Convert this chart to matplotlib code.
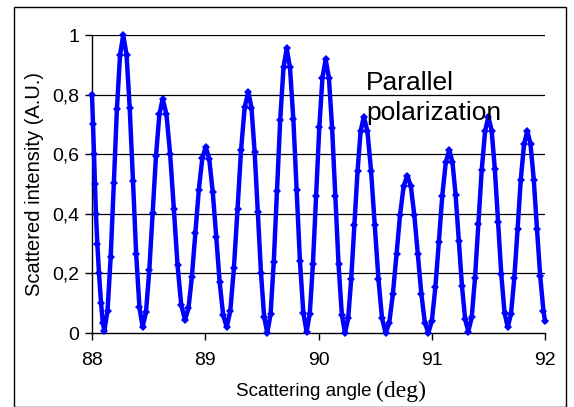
import matplotlib
matplotlib.use("Agg")
import matplotlib.pyplot as plt
from matplotlib.patches import Rectangle

# Scattering angle (deg) and scattered intensity (A.U.)
angle = [
    88.000, 88.009, 88.018, 88.026, 88.035, 88.047, 88.062, 88.080, 88.095,
    88.109, 88.137, 88.165, 88.193, 88.220, 88.248,
    88.276, 88.305, 88.333, 88.362, 88.390, 88.419,
    88.447, 88.477, 88.506, 88.536, 88.565, 88.595,
    88.624, 88.657, 88.690, 88.723, 88.755, 88.788,
    88.821, 88.852, 88.882, 88.913, 88.943, 88.974,
    89.004, 89.035, 89.066, 89.097, 89.127, 89.158,
    89.189, 89.221, 89.253, 89.285, 89.316, 89.348,
    89.380, 89.408, 89.436, 89.464, 89.492, 89.520,
    89.548, 89.577, 89.605, 89.634, 89.662, 89.691,
    89.719, 89.748, 89.778, 89.807, 89.836, 89.866,
    89.895, 89.923, 89.951, 89.979, 90.007, 90.035,
    90.063, 90.092, 90.120, 90.149, 90.177, 90.206,
    90.234, 90.262, 90.289, 90.317, 90.345, 90.372,
    90.400, 90.432, 90.464, 90.497, 90.529, 90.561,
    90.593, 90.625, 90.657, 90.689, 90.720, 90.752,
    90.784, 90.815, 90.846, 90.877, 90.908, 90.939,
    90.970, 91.001, 91.032, 91.063, 91.093, 91.124,
    91.155, 91.183, 91.211, 91.239, 91.267, 91.295,
    91.323, 91.353, 91.382, 91.412, 91.441, 91.471,
    91.500, 91.529, 91.557, 91.586, 91.614, 91.643,
    91.671, 91.700, 91.729, 91.758, 91.786, 91.815,
    91.844, 91.872, 91.901, 91.929, 91.958, 91.986, 92.000,
]
intensity = [
    0.800, 0.700, 0.600, 0.500, 0.400, 0.300, 0.200, 0.100, 0.035,
    0.008, 0.074, 0.256, 0.504, 0.752, 0.934,
    1.000, 0.934, 0.755, 0.510, 0.265, 0.086,
    0.020, 0.071, 0.211, 0.403, 0.594, 0.734,
    0.785, 0.735, 0.600, 0.415, 0.229, 0.094,
    0.044, 0.083, 0.189, 0.335, 0.480, 0.586,
    0.625, 0.584, 0.474, 0.323, 0.171, 0.061,
    0.020, 0.073, 0.218, 0.415, 0.613, 0.757,
    0.810, 0.756, 0.608, 0.405, 0.203, 0.054,
    0.000, 0.064, 0.239, 0.478, 0.716, 0.891,
    0.955, 0.891, 0.717, 0.480, 0.242, 0.068,
    0.004, 0.065, 0.233, 0.461, 0.690, 0.857,
    0.918, 0.856, 0.689, 0.459, 0.230, 0.062,
    0.000, 0.049, 0.182, 0.363, 0.545, 0.677,
    0.726, 0.677, 0.545, 0.363, 0.182, 0.049,
    0.000, 0.035, 0.132, 0.264, 0.396, 0.493,
    0.528, 0.493, 0.396, 0.264, 0.132, 0.035,
    0.000, 0.041, 0.154, 0.307, 0.461, 0.573,
    0.614, 0.573, 0.462, 0.310, 0.157, 0.046,
    0.005, 0.053, 0.185, 0.366, 0.546, 0.678,
    0.726, 0.679, 0.550, 0.373, 0.197, 0.067,
    0.020, 0.064, 0.185, 0.349, 0.514, 0.634,
    0.678, 0.634, 0.514, 0.350, 0.190, 0.075, 0.040,
]
x_ticks = [88, 89, 90, 91, 92]
x_tick_labels = ["88", "89", "90", "91", "92"]
y_ticks = [0, 0.2, 0.4, 0.6, 0.8, 1.0]
y_tick_labels = ["0", "0,2", "0,4", "0,6", "0,8", "1"]

plt.rcParams['font.family'] = ['Liberation Sans', 'DejaVu Sans']

W, H = 574, 407
fig = plt.figure(figsize=(W / 100, H / 100), dpi=100)
fig.patches.append(Rectangle((14 / W, 0.0), (566 - 14) / W, 1 - 7 / H,
                             transform=fig.transFigure, fill=False,
                             edgecolor='black', linewidth=1.0))
ax = fig.add_axes([92 / W, 1 - 333 / H, (545 - 92) / W, (333 - 35) / H])

for v in y_ticks[1:]:
    ax.axhline(v, color='black', linewidth=0.9, zorder=1)

ax.plot(angle, intensity, color='#0000FF', linewidth=3.2, marker='D',
        markersize=4.2, markeredgewidth=0, zorder=3, clip_on=False)

ax.set_xlim(88, 92)
ax.set_ylim(0, 1)
ax.set_xticks(x_ticks)
ax.set_xticklabels(x_tick_labels)
ax.set_yticks(y_ticks)
ax.set_yticklabels(y_tick_labels)
ax.tick_params(direction='out', length=5, width=1, labelsize=14)
ax.tick_params(axis='x', pad=9)
ax.tick_params(axis='y', pad=4)
for s in ['top', 'right']:
    ax.spines[s].set_visible(False)
for s in ['left', 'bottom']:
    ax.spines[s].set_linewidth(1.0)

ax.set_ylabel("Scattered intensity (A.U.)", fontsize=14.5, labelpad=6)
fig.text(372 / W, 1 - 392 / H, "Scattering angle",
         ha='right', va='center', fontsize=13.5)
fig.text(376 / W, 1 - 391 / H, "(deg)",
         ha='left', va='center', fontsize=17, family=['Liberation Serif', 'DejaVu Serif'])

ax.text(90.42, 0.815, "Parallel", fontsize=19, ha='left', va='baseline')
ax.text(90.42, 0.715, "polarization", fontsize=19, ha='left', va='baseline')

fig.savefig("out.png", dpi=100)
